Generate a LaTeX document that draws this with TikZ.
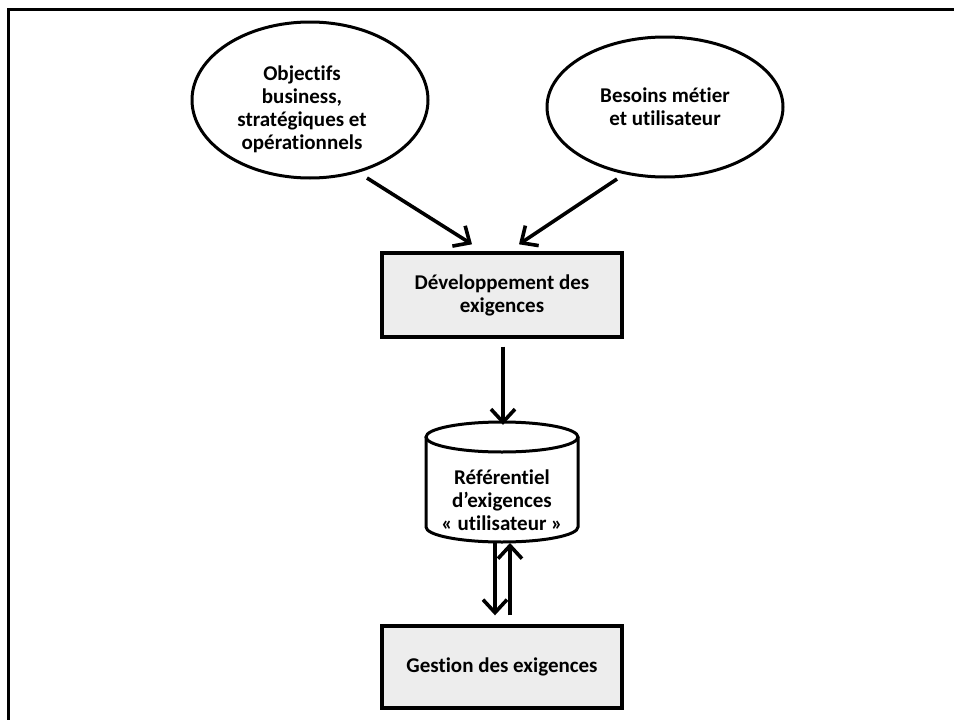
\documentclass[tikz,border=0pt]{standalone}
\usepackage{fontspec}
\setmainfont{Carlito}[Ligatures=NoCommon]
\usetikzlibrary{arrows.meta,shapes.geometric}

\tikzset{
  lbl/.style={font=\fontsize{21}{23}\selectfont\bfseries, align=center},
  goal/.style={lbl, ellipse, draw, line width=3pt, inner sep=0pt},
  stepbox/.style={lbl, rectangle, draw, line width=3.4pt, fill=black!7, inner sep=0pt},
  store/.style={lbl, rectangle, inner sep=0pt, minimum width=152, minimum height=126},
  arr/.style={line width=3.6pt, -{Straight Barb[length=13pt,width=24pt,line width=3.6pt]}},
  frame/.style={line width=3.6pt}
}

\begin{document}
\begin{tikzpicture}[x=1pt, y=-1pt]
  \useasboundingbox (0,0) rectangle (954,720);

  % outer frame (only left and top edges fall inside the page)
  \draw[frame] (8.5,720) -- (8.5,9.5) -- (954,9.5);

  % sources
  \node[goal, minimum width=236, minimum height=156] (obj) at (310,100) {};
  \node[lbl] (objt) at (302,109) {Objectifs\\business,\\stratégiques et\\opérationnels};
  \node[goal, minimum width=236, minimum height=140] (bes) at (665,107) {Besoins métier\\et utilisateur};

  % process boxes
  \node[stepbox, minimum width=240, minimum height=84] (dev) at (502,295) {Développement des\\exigences};
  \node[stepbox, minimum width=240, minimum height=82] (gest) at (502,667) {Gestion des exigences};

  % repository (cylinder drawn around the node)
  \node[store] (ref) at (502,500) {Référentiel\\d’exigences\\« utilisateur »};
  \draw[line width=3pt]
    ([shift={(-76,-63)}]ref.center) -- ([shift={(-76,27)}]ref.center)
    arc[start angle=180, end angle=360, x radius=76, y radius=-15]
    -- ([shift={(76,-63)}]ref.center);
  \draw[line width=3pt] ([shift={(0,-63)}]ref.center) ellipse[x radius=76, y radius=15];

  % connectors
  \draw[arr] ([shift={(57,78)}]obj.center) -- ([shift={(-30,-7)}]dev.north);
  \draw[arr] ([shift={(-48,72)}]bes.center) -- ([shift={(17,-7)}]dev.north);
  \draw[arr] ([shift={(1,8)}]dev.south) -- ([shift={(1,-12)}]ref.north);
  \draw[arr] ([shift={(-7,42)}]ref.center) -- ([shift={(-7,-9)}]gest.north);
  \draw[arr] ([shift={(8,-9)}]gest.north) -- ([shift={(8,43)}]ref.center);
\end{tikzpicture}
\end{document}
